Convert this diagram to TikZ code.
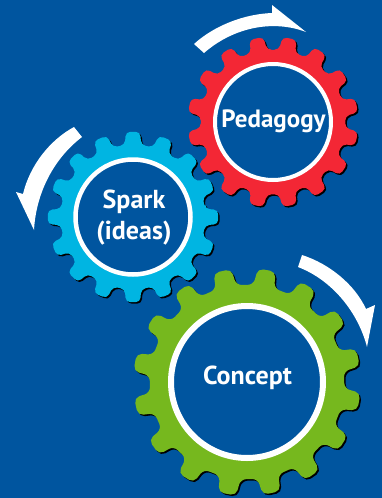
\documentclass[tikz,border=0pt]{standalone}
\usepackage{fontspec}
\setmainfont{PT Sans}
\definecolor{bgblue}{HTML}{00559F}
\definecolor{gearred}{HTML}{F32735}
\definecolor{gearcyan}{HTML}{00B5E2}
\definecolor{geargreen}{HTML}{76B81E}
\tikzset{
  hub/.style={circle,draw=white,fill=bgblue,inner sep=0pt},
  hubtext/.style={text=white,align=center,inner sep=0pt,font=\bfseries\fontsize{26}{31}\selectfont},
  sweep/.style={fill=white,draw=none}
}
% #1 centre, #2 offset, #3 root r, #4 tip r, #5 root half-angle, #6 tip half-angle, #7 corner, #8 colour
\newcommand{\gearshape}[8]{%
  \foreach \shx/\col in {1.5/black,0/#8}{%
  \fill[\col,rounded corners=#7,shift={(#1)},xshift=\shx pt,yshift=-\shx pt]
    (#2-#5:#3)
    foreach \i [evaluate=\i as \a using #2+\i*22.5] in {0,...,15}{
      -- (\a-#5:#3) -- (\a-#6:#4) -- (\a+#6:#4) -- (\a+#5:#3)
    } -- cycle;}%
}
\begin{document}
\begin{tikzpicture}[x=1pt,y=-1pt]
\path[use as bounding box,fill=bgblue] (0,0) rectangle (382,498);
\gearshape{273,122}{11.25}{72.5}{85.5}{6.5}{4.8}{4.5pt}{gearred}
\gearshape{133,217}{0}{72.5}{85.5}{6.5}{4.8}{4.5pt}{gearcyan}
\gearshape{247,382}{10}{97.5}{114}{6.2}{4.5}{5.5pt}{geargreen}
\node[hub,minimum size=116pt,line width=4pt] (pedagogyring) at (273,122) {};
\node[hub,minimum size=115pt,line width=4.5pt] (sparkring) at (133,217) {};
\node[hub,minimum size=152pt,line width=6pt] (conceptring) at (247,382) {};
\node[hubtext,font=\bfseries\fontsize{25}{31}\selectfont] (pedagogy) at (273.5,121) {Pedagogy};
\node[hubtext] (spark) at (134,218) {Spark\\(ideas)};
\node[hubtext] (concept) at (247.5,378) {Concept};
\fill[sweep] (194,44) .. controls (215,25) and (245,14) .. (272,13) -- (272,5) -- (306,32)
  .. controls (275,20) and (235,26) .. (204,53) -- cycle;
\fill[sweep] (74,127) .. controls (50,140) and (30,165) .. (23,194) -- (16,192) -- (34,230)
  .. controls (36,195) and (52,160) .. (82,137) -- cycle;
\fill[sweep] (302,255) .. controls (330,264) and (355,285) .. (366,309) -- (375,305) -- (367,347)
  .. controls (358,312) and (332,280) .. (298,267) -- cycle;
\end{tikzpicture}
\end{document}
